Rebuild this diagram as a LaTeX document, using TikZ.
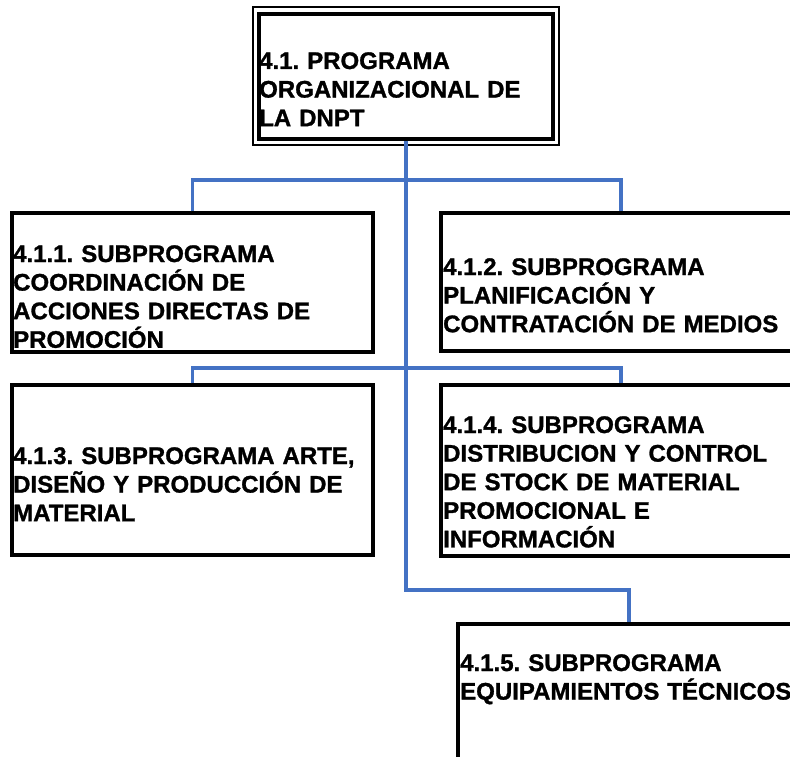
\documentclass[tikz,border=0pt]{standalone}
\usepackage{fontspec}
\setmainfont{Liberation Sans}
\newfontfamily\boxfont{Liberation Sans Bold}[FakeBold=1.2]
\frenchspacing
\definecolor{connblue}{RGB}{68,114,196}
\begin{document}
\begin{tikzpicture}[x=1pt,y=-1pt,
  box/.style={draw=black, line width=3.2pt, rectangle, inner sep=0pt},
  outerbox/.style={draw=black, line width=2.4pt, rectangle, inner sep=0pt},
  label/.style={anchor=base west, inner sep=0pt, text width=420pt, align=left,
    font=\boxfont\fontsize{24}{28.6}\selectfont},
  conn/.style={draw=connblue, line width=3.2pt}]
\useasboundingbox (0,0) rectangle (790,757);
\clip (0,0) rectangle (790,757);
\fill[white] (0,0) rectangle (790,757);
% top box (double border)
\node[outerbox, minimum width=306pt, minimum height=138pt] (b0o) at (406,76) {};
\node[box, minimum width=294pt, minimum height=125pt] (b0) at (406,76.5) {};
\node[label] (t0) at (259,69) {4.1. PROGRAMA\\ORGANIZACIONAL DE\\LA DNPT};
% sub boxes
\node[box, minimum width=361pt, minimum height=139pt] (b1) at (192.5,282.5) {};
\node[label] (t1) at (13,262) {4.1.1. SUBPROGRAMA\\COORDINACIÓN DE\\ACCIONES DIRECTAS DE\\PROMOCIÓN};
\node[box, minimum width=360pt, minimum height=138pt] (b2) at (621,282) {};
\node[label] (t2) at (443,275) {4.1.2. SUBPROGRAMA\\PLANIFICACIÓN Y\\CONTRATACIÓN DE MEDIOS};
\node[box, minimum width=361pt, minimum height=170pt] (b3) at (192.5,470) {};
\node[label] (t3) at (13,464) {4.1.3. SUBPROGRAMA ARTE,\\DISEÑO Y PRODUCCIÓN DE\\MATERIAL};
\node[box, minimum width=360pt, minimum height=171pt] (b4) at (621,470.5) {};
\node[label] (t4) at (443,433) {4.1.4. SUBPROGRAMA\\DISTRIBUCION Y CONTROL\\DE STOCK DE MATERIAL\\PROMOCIONAL E\\INFORMACIÓN};
\node[box, minimum width=342pt, minimum height=200pt] (b5) at (629,724) {};
\node[label] (t5) at (460,671) {4.1.5. SUBPROGRAMA\\EQUIPAMIENTOS TÉCNICOS};
% connectors
\coordinate (j1) at (406,180);
\coordinate (j2) at (406,368);
\coordinate (j3) at (406,590);
\draw[conn] (b1.north) |- (j1) -| (b2.north);
\draw[conn] (b3.north) |- (j2) -| (b4.north);
\draw[conn] (b0.south) -- (j3) -| (b5.north);
\end{tikzpicture}
\end{document}
